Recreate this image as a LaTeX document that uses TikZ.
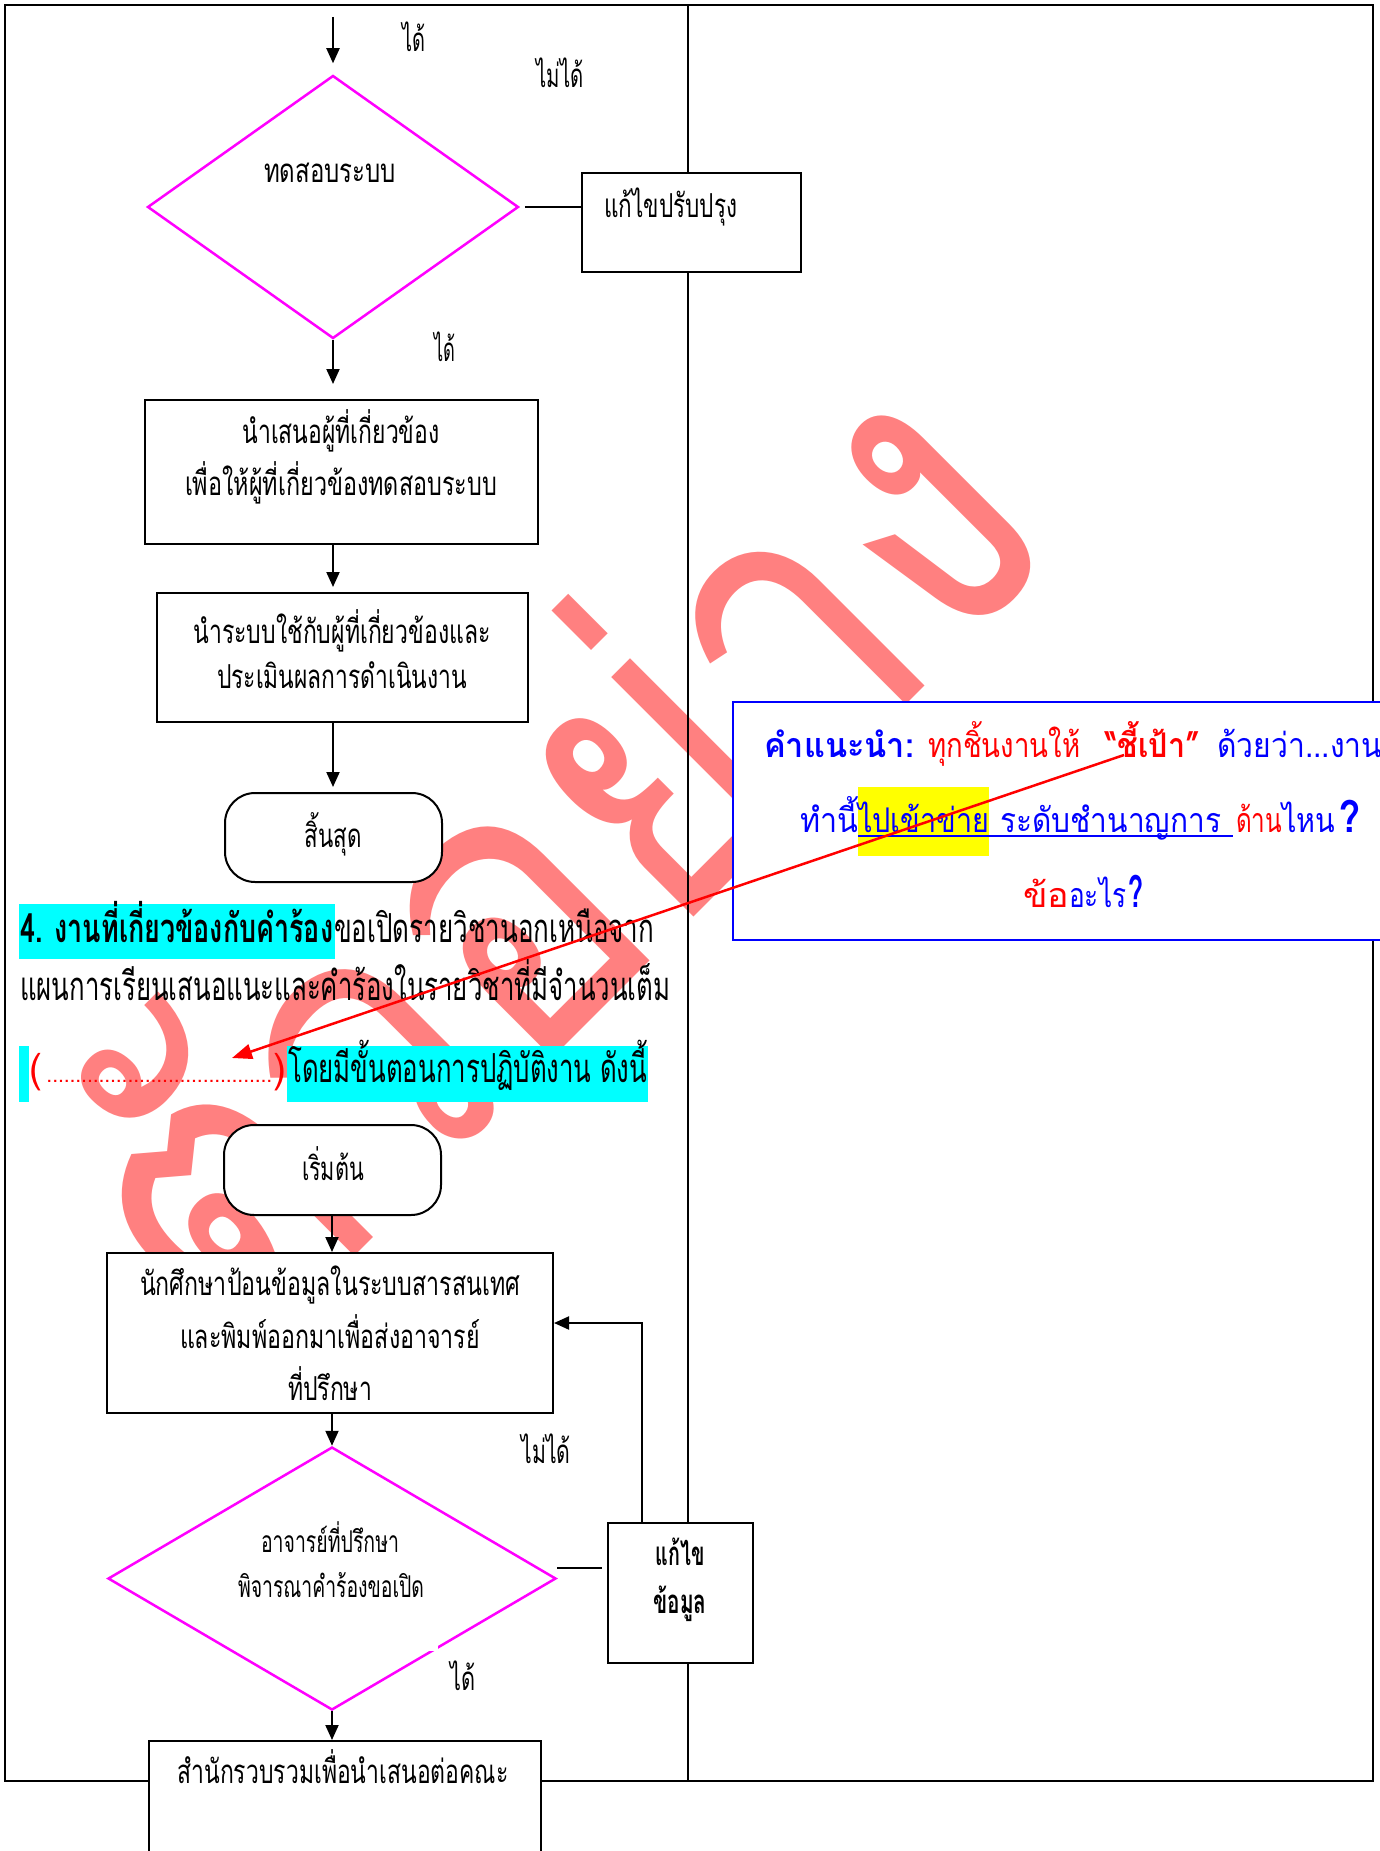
\documentclass[tikz,border=0pt]{standalone}
\usepackage{fontspec}
\usepackage{graphicx}
\usetikzlibrary{arrows.meta,shapes.geometric}
\newfontfamily\thf[Script=Thai]{Loma}
\definecolor{wmpink}{RGB}{255,128,128}
\definecolor{mag}{RGB}{255,0,255}
\definecolor{hlcyan}{RGB}{0,255,255}
\definecolor{hlyellow}{RGB}{255,255,0}
\definecolor{tipblue}{RGB}{0,0,255}
\definecolor{tipred}{RGB}{255,0,0}
% scale a piece of text horizontally to an exact width
\newsavebox\fitbox
\newcommand\fw[2]{\sbox\fitbox{#2}\edef\fitratio{\fpeval{(#1)/(\the\wd\fitbox)}}\scalebox{\fitratio}[1]{\usebox\fitbox}}
\newcommand\chartfont{\thf\fontsize{33}{40}\selectfont}
\newcommand\smallchart{\thf\fontsize{30}{36}\selectfont}
\newcommand\secfont{\thf\fontsize{40}{48}\selectfont}
\newcommand\tipfont{\thf\fontsize{34}{40}\selectfont}
\newcommand\bigq{\bfseries\fontsize{44}{50}\selectfont}
\newcommand\wmfont{\thf\fontsize{100}{120}\selectfont}
\newcommand\dotrun{\leaders\hbox to 6pt{\hss\fontsize{22}{22}\selectfont.\hss}\hskip 240pt}
\tikzset{
  box/.style={draw=black, line width=2pt, fill=white, inner sep=0pt},
  dec/.style={diamond, draw=mag, line width=2.5pt, inner sep=0pt},
  term/.style={draw=black, line width=2pt, fill=white, rounded corners=30pt, inner sep=0pt},
  txt/.style={inner sep=0pt, anchor=base, font=\chartfont},
  txtw/.style={inner sep=0pt, anchor=base west},
  flow/.style={line width=2pt, -{Triangle[length=15pt,width=13pt]}},
  plain/.style={line width=2pt},
}
\begin{document}
\begin{tikzpicture}[x=1pt,y=-1pt]
\useasboundingbox (0,0) rectangle (1380,1851);
\fill[white] (0,0) rectangle (1380,1851);

% diagonal watermark
\node[rotate=45, anchor=base west, inner sep=0pt, text=wmpink, font=\wmfont] (wm) at (234,1377)
  {\scalebox{1}[1.2]{\resizebox{1175pt}{!}{ตัวอย่าง}}};

% highlighted runs of the section heading
\fill[hlcyan] (19,904) rectangle (335,959);
\fill[hlcyan] (19,1046) rectangle (29,1102);
\fill[hlcyan] (287,1046) rectangle (648,1102);

% page frame and lane divider
\draw[line width=2pt] (5,5) rectangle (1373,1781);
\draw[line width=1.5pt] (688,5) -- (688,1781);

% upper flow
\node[dec, minimum width=371pt, minimum height=263pt] (d1) at (333,207) {};
\node[box, minimum width=219pt, minimum height=99pt] (fix1) at (691.5,222.5) {};
\node[box, minimum width=393pt, minimum height=144pt] (box2) at (341.5,472) {};
\node[box, minimum width=371pt, minimum height=129pt] (box3) at (342.5,657.5) {};
\node[term, minimum width=217pt, minimum height=89pt] (endT) at (333.5,837.5) {};

% lower flow
\node[term, minimum width=217pt, minimum height=90pt] (startT) at (332.5,1170) {};
\node[box, minimum width=446pt, minimum height=160pt] (box4) at (330,1333) {};
\node[dec, minimum width=448pt, minimum height=263pt] (d2) at (332,1578.5) {};
\fill[white] (429,1645) rectangle (438,1651);
\node[box, minimum width=145pt, minimum height=140pt] (fix2) at (680.5,1593) {};
\node[box, minimum width=392pt, minimum height=140pt, anchor=north] (box5) at (345,1740) {};

% advice box
\node[draw=tipblue, line width=2pt, fill=white, inner sep=0pt, minimum width=696pt, minimum height=238pt, anchor=north west] (tip) at (732,701) {};
\fill[hlyellow] (858,787) rectangle (989,856);

% texts of the upper flow
\node[txt] (lYes1) at (414,52) {\fw{23pt}{ได้}};
\node[txt] (lNo1) at (560,88) {\fw{47pt}{ไม่ได้}};
\node[txt] (tD1) at (330,183) {\fw{132pt}{ทดสอบระบบ}};
\node[txtw, font=\chartfont] (tFix1) at (604,218) {\fw{133pt}{แก้ไขปรับปรุง}};
\node[txt] (lYes2) at (445,361) {\fw{21pt}{ได้}};
\node[txt] (tB2a) at (341,443) {\fw{197pt}{นำเสนอผู้ที่เกี่ยวข้อง}};
\node[txt] (tB2b) at (341,495) {\fw{312pt}{เพื่อให้ผู้ที่เกี่ยวข้องทดสอบระบบ}};
\node[txt] (tB3a) at (342,643) {\fw{297pt}{นำระบบใช้กับผู้ที่เกี่ยวข้องและ}};
\node[txt] (tB3b) at (342,688) {\fw{250pt}{ประเมินผลการดำเนินงาน}};
\node[txt] (tEnd) at (333,847) {\fw{57pt}{สิ้นสุด}};

% section heading
\node[txtw, font=\secfont] (s1a) at (20,942) {\fw{313pt}{\bfseries 4. งานที่เกี่ยวข้องกับคำร้อง}};
\node[txtw, font=\secfont] (s1b) at (334,942) {\fw{320pt}{ขอเปิดรายวิชานอกเหนือจาก}};
\node[txtw, font=\secfont] (s2) at (20,1000) {\fw{650pt}{แผนการเรียนเสนอแนะและคำร้องในรายวิชาที่มีจำนวนเต็ม}};
\node[txtw, font=\secfont] (s3a) at (29,1082) {\fw{257pt}{\color{tipred}(\dotrun)}};
\node[txtw, font=\secfont] (s3b) at (288,1082) {\fw{359pt}{โดยมีขั้นตอนการปฏิบัติงาน ดังนี้}};

% texts of the lower flow
\node[txt] (tStart) at (333,1180) {\fw{62pt}{เริ่มต้น}};
\node[txt] (tB4a) at (330,1295) {\fw{380pt}{นักศึกษาป้อนข้อมูลในระบบสารสนเทศ}};
\node[txt] (tB4b) at (330,1348) {\fw{300pt}{และพิมพ์ออกมาเพื่อส่งอาจารย์}};
\node[txt] (tB4c) at (330,1400) {\fw{84pt}{ที่ปรึกษา}};
\node[txt, font=\smallchart] (tD2a) at (330,1552) {\fw{138pt}{อาจารย์ที่ปรึกษา}};
\node[txt, font=\smallchart] (tD2b) at (331,1597) {\fw{186pt}{พิจารณาคำร้องขอเปิด}};
\node[txt] (lNo2) at (546,1463) {\fw{49pt}{ไม่ได้}};
\node[txt] (tFix2a) at (680,1565) {\fw{49pt}{\bfseries แก้ไข}};
\node[txt] (tFix2b) at (680,1613) {\fw{53pt}{\bfseries ข้อมูล}};
\node[txt] (lYes3) at (463,1690) {\fw{25pt}{ได้}};
\node[txt] (tB5) at (343,1783) {\fw{331pt}{สำนักรวบรวมเพื่อนำเสนอต่อคณะ}};

% advice text
\node[txtw, font=\tipfont] (tipA) at (764,757)
  {\fw{150pt}{\color{tipblue}\bfseries คำแนะนำ:}\hspace{14pt}\fw{152pt}{\color{tipred}ทุกชิ้นงานให้}\hspace{25pt}\fw{95pt}{\color{tipred}\bfseries “ชี้เป้า”}\hspace{17pt}\fw{165pt}{\color{tipblue}ด้วยว่า...งาน}};
\node[txtw, font=\tipfont, text=tipblue] (tipB) at (800,832)
  {\fw{58pt}{ทำนี้}\fw{131pt}{ไปเข้าข่าย}\hspace{11pt}\fw{221pt}{ระดับชำนาญการ}\hspace{15pt}\fw{46pt}{\color{tipred}ด้าน}\fw{53pt}{ไหน}\hspace{4pt}\fw{21pt}{\bigq ?}};
\node[txtw, font=\tipfont] (tipC) at (1023,907)
  {\fw{46pt}{\color{tipred}ข้อ}\fw{57pt}{\color{tipblue}อะไร}\hspace{2pt}\fw{15pt}{\color{tipblue}\bigq ?}};
\draw[tipblue, line width=1.5pt] (858,836) -- (1233,836);

% connectors
\coordinate (topIn) at (333,17);
\draw[flow] (topIn) -- ([yshift=11pt]d1.north);
\draw[plain] ([xshift=5pt]d1.east) -- (fix1.west |- d1.east);
\draw[flow] (d1.south) -- ([yshift=15pt]box2.north -| d1.south);
\draw[flow] (box2.south -| d1.south) -- ([yshift=5pt]box3.north -| d1.south);
\draw[flow] (box3.south -| d1.south) -- ([yshift=5pt]endT.north -| d1.south);
\draw[flow] (startT.south -| d2.north) -- (box4.north -| d2.north);
\draw[flow] (box4.south -| d2.north) -- (d2.north);
\coordinate (d2r) at ([yshift=11pt]d2.east);
\draw[plain] (d2r) -- ([xshift=-5pt]fix2.west |- d2r);
\draw[flow] ([xshift=-38.5pt]fix2.north) |- ([yshift=10pt]box4.east);
\draw[flow] (d2.south) -- (box5.north -| d2.south);

% pointer from the advice to the blank
\coordinate (ptrS) at (1124,755);
\coordinate (ptrE) at (232,1058);
\draw[tipred, line width=2.5pt, -{Triangle[length=20pt,width=15pt]}] (ptrS) -- (ptrE);
\end{tikzpicture}
\end{document}
